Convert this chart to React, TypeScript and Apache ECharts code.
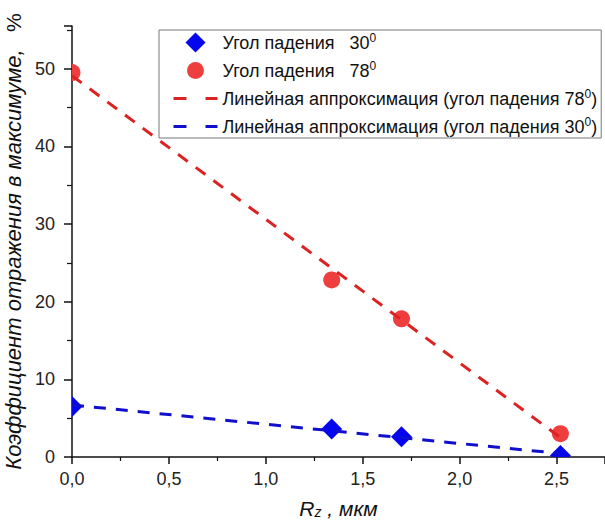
import React, { useEffect, useRef } from "react";
import * as echarts from "echarts";

const xPoints = [0, 1.34, 1.7, 2.52];
const reflect30 = [6.5, 3.6, 2.6, 0.2];
const reflect78 = [49.5, 22.8, 17.8, 3.0];
const fit78X = [0, 2.52];
const fit78Y = [49.1, 2.5];
const fit30X = [0, 2.52];
const fit30Y = [6.7, 0.45];

const seriesNames = [
  "Угол падения   30",
  "Угол падения   78",
  "Линейная аппроксимация (угол падения 78",
  "Линейная аппроксимация (угол падения 30",
];

const FONT = "Liberation Sans, Arial, sans-serif";
const BLUE_MARK = "#0505ee";
const RED_MARK = "#ee3e3e";
const RED_LINE = "#dd2222";
const BLUE_LINE = "#1010cc";

const DIAMOND_ICON = "path://M0 0M44 20M22 -1L33 10L22 21L11 10Z";
const CIRCLE_ICON = "path://M0 0M44 20M13.5 10A8.5 8.5 0 1 0 30.5 10A8.5 8.5 0 1 0 13.5 10Z";

export default function App() {
  const ref = useRef<HTMLDivElement>(null);
  useEffect(() => {
    document.body.style.margin = "0";
    if (!ref.current) return;
    const chart = echarts.init(ref.current, undefined, { renderer: "svg" });
    const zip = (xs: number[], ys: number[]) => xs.map((x, i) => [x, ys[i]]);

    const diamondItem = (params: any, api: any) => {
      const p = api.coord([api.value(0), api.value(1)]);
      const h = 10.5;
      return {
        type: "polygon",
        shape: {
          points: [
            [p[0], p[1] - h],
            [p[0] + h, p[1]],
            [p[0], p[1] + h],
            [p[0] - h, p[1]],
          ],
        },
        style: { fill: BLUE_MARK },
      };
    };
    const circleItem = (params: any, api: any) => {
      const p = api.coord([api.value(0), api.value(1)]);
      return {
        type: "circle",
        shape: { cx: p[0], cy: p[1], r: 8.5 },
        style: { fill: RED_MARK },
      };
    };

    const hiddenSym = { color: "rgba(0,0,0,0)", opacity: 0, borderWidth: 0 };

    const option: any = {
      animation: false,
      backgroundColor: "#ffffff",
      textStyle: { fontFamily: FONT },
      grid: { left: 72, right: 0, top: 26, bottom: 65, containLabel: false, outerBoundsMode: "none" },
      legend: {
        orient: "vertical",
        left: 159,
        top: 30,
        padding: [2, 4, 1, 13],
        itemWidth: 44,
        itemHeight: 20,
        itemGap: 7,
        borderColor: "#777",
        borderWidth: 1,
        backgroundColor: "#fff",
        data: [
          { name: seriesNames[0], icon: DIAMOND_ICON, itemStyle: { color: BLUE_MARK } },
          { name: seriesNames[1], icon: CIRCLE_ICON, itemStyle: { color: RED_MARK } },
          { name: seriesNames[2], itemStyle: hiddenSym, lineStyle: { type: [13, 19], width: 3 } },
          { name: seriesNames[3], itemStyle: hiddenSym, lineStyle: { type: [13, 19], width: 3 } },
        ],
        formatter: (name: string) => {
          if (name.startsWith("Линейная")) return `{t|${name}}{s|0}{t|)}`;
          return `{t|${name}}{s|0}`;
        },
        textStyle: {
          fontFamily: FONT,
          rich: {
            t: { fontSize: 18, color: "#111", fontFamily: FONT, lineHeight: 20 },
            s: { fontSize: 12, color: "#111", fontFamily: FONT, lineHeight: 20, padding: [0, 0, 9, 0] },
          },
        },
      },
      xAxis: {
        type: "value",
        min: 0,
        max: 2.75,
        interval: 0.5,
        name: "{i|R}{sub|z}{i| , мкм}",
        nameLocation: "middle",
        nameGap: 40,
        nameTextStyle: {
          rich: {
            i: { fontSize: 21, fontStyle: "italic", color: "#111", fontFamily: FONT, lineHeight: 22 },
            sub: { fontSize: 14, fontStyle: "italic", color: "#111", fontFamily: FONT, lineHeight: 22, padding: [8, 0, 0, 0] },
          },
        },
        axisLine: { lineStyle: { color: "#111", width: 1.5 } },
        axisTick: { length: 7, lineStyle: { color: "#111", width: 1.5 } },
        minorTick: { show: true, splitNumber: 2, length: 4, lineStyle: { color: "#111", width: 1.2 } },
        splitLine: { show: false },
        axisLabel: {
          fontSize: 18,
          color: "#222",
          fontFamily: FONT,
          margin: 13,
          showMaxLabel: false,
          formatter: (v: number) => v.toFixed(1).replace(".", ","),
        },
      },
      yAxis: {
        type: "value",
        min: 0,
        max: 55.5,
        interval: 10,
        name: "{i|Коэффициент отражения в максимуме,}{n|   %}",
        nameLocation: "middle",
        nameGap: 38,
        nameTextStyle: {
          rich: {
            i: { fontSize: 22, fontStyle: "italic", color: "#111", fontFamily: FONT },
            n: { fontSize: 21, color: "#111", fontFamily: FONT },
          },
        },
        axisLine: { show: true, lineStyle: { color: "#111", width: 1.5 } },
        axisTick: { show: true, length: 8, lineStyle: { color: "#111", width: 1.5 } },
        minorTick: { show: true, splitNumber: 2, length: 5, lineStyle: { color: "#111", width: 1.2 } },
        splitLine: { show: false },
        axisLabel: {
          fontSize: 18,
          color: "#222",
          fontFamily: FONT,
          margin: 17,
          showMaxLabel: false,
        },
      },
      series: [
        {
          name: seriesNames[0],
          type: "custom",
          clip: true,
          renderItem: diamondItem,
          itemStyle: { color: BLUE_MARK },
          encode: { x: 0, y: 1 },
          data: zip(xPoints, reflect30),
          z: 3,
        },
        {
          name: seriesNames[1],
          type: "custom",
          clip: true,
          renderItem: circleItem,
          itemStyle: { color: RED_MARK },
          encode: { x: 0, y: 1 },
          data: zip(xPoints, reflect78),
          z: 3,
        },
        {
          name: seriesNames[2],
          type: "line",
          symbol: "none",
          showSymbol: false,
          lineStyle: { color: RED_LINE, width: 3, type: [12, 10] },
          itemStyle: { color: RED_LINE },
          data: zip(fit78X, fit78Y),
          z: 4,
        },
        {
          name: seriesNames[3],
          type: "line",
          symbol: "none",
          showSymbol: false,
          lineStyle: { color: BLUE_LINE, width: 3, type: [12, 10] },
          itemStyle: { color: BLUE_LINE },
          data: zip(fit30X, fit30Y),
          z: 4,
        },
      ],
    };
    chart.setOption(option);
    return () => chart.dispose();
  }, []);
  return <div ref={ref} style={{ width: 605, height: 522 }} />;
}
